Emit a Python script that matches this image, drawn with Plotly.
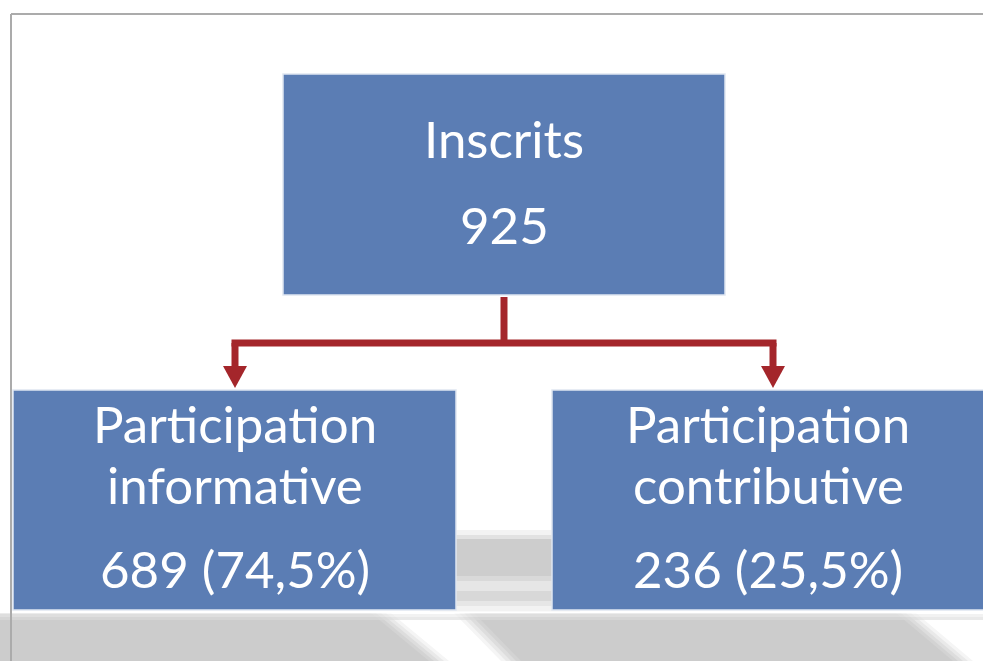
import plotly.graph_objects as go

# data
total_label = "Inscrits"
total_count = 925
group_labels = ["Participation<br>informative", "Participation<br>contributive"]
group_counts = [689, 236]
group_pcts = [74.5, 25.5]

W, H = 983, 661
BOX = "#5b7db4"
RED = "#a4262b"
FONT = "Lato"
FS = 51

fig = go.Figure()
shapes = []
annotations = []


def poly(pts, color):
    d = "M " + " L ".join(f"{x},{y}" for x, y in pts) + " Z"
    return dict(type="path", path=d, fillcolor=color, line=dict(width=0), layer="below")


# reflection of the top box, visible between the lower boxes
for y0, y1, c in [(530, 535, "#f3f3f3"), (535, 539, "#e2e2e2"), (539, 576, "#cdcdcd"),
                  (576, 581, "#d9d9d9"), (581, 591, "#e6e6e6"), (591, 601, "#d8d8d8"),
                  (601, 606, "#e6e6e6"), (606, 612, "#f2f2f2")]:
    shapes.append(dict(type="rect", x0=430, x1=580, y0=y0, y1=y1, fillcolor=c,
                       line=dict(width=0), layer="below"))

# reflections of the lower boxes, soft slanted edges
for off, c in [(16, "#f5f5f5"), (11, "#e9e9e9"), (6, "#dddddd"), (1, "#d3d3d3"), (-4, "#cccccc")]:
    shapes.append(poly([(0, 613), (375 + off, 613), (433 + off, 661), (0, 661)], c))
    shapes.append(poly([(470 - off, 613), (900 + off, 613), (957 + off, 661), (517 - off, 661)], c))
for y0, y1, c in [(611, 614, "#ffffff"), (614, 617, "#eaeaea"), (617, 620, "#dadada")]:
    shapes.append(dict(type="rect", x0=0, x1=W, y0=y0, y1=y1, fillcolor=c, opacity=0.6,
                       line=dict(width=0), layer="below"))

# frame lines
shapes.append(dict(type="line", x0=11, x1=W, y0=14, y1=14, line=dict(color="#ababab", width=2)))
shapes.append(dict(type="line", x0=11, x1=11, y0=14, y1=H, line=dict(color="#ababab", width=2)))

# boxes
boxes = [(283, 725, 74, 295), (13, 456, 390, 610), (552, 990, 390, 610)]
for x0, x1, y0, y1 in boxes:
    shapes.append(dict(type="rect", x0=x0, x1=x1, y0=y0, y1=y1, fillcolor=BOX,
                       line=dict(color="#dfe6f1", width=1.5)))

# connectors
cx, lx, rx, hy = 504, 235, 773, 343
shapes.append(dict(type="line", x0=cx, x1=cx, y0=297, y1=hy, line=dict(color=RED, width=7)))
shapes.append(dict(type="line", x0=lx - 3.5, x1=rx + 3.5, y0=hy, y1=hy, line=dict(color=RED, width=7)))
for ax in (lx, rx):
    shapes.append(dict(type="line", x0=ax, x1=ax, y0=hy, y1=368, line=dict(color=RED, width=7)))
    shapes.append(poly([(ax - 12, 366), (ax + 12, 366), (ax, 388)], RED) | {"layer": "above"})


def label(x, y, text):
    annotations.append(dict(x=x, y=y, xref="x", yref="y", text=text, showarrow=False,
                            xanchor="center", yanchor="middle",
                            font=dict(family=FONT, size=FS, color="white")))


label(504, 138, total_label)
label(504, 224, str(total_count))
centers = [235, 768]
for i, name in enumerate(group_labels):
    first, second = name.split("<br>")
    label(centers[i], 423, first)
    label(centers[i], 484, second)
    pct = f"{group_pcts[i]:.1f}".replace(".", ",")
    label(centers[i], 568, f"{group_counts[i]} ({pct}%)")

fig.update_layout(
    width=W, height=H, margin=dict(l=0, r=0, t=0, b=0),
    paper_bgcolor="white", plot_bgcolor="white",
    xaxis=dict(range=[0, W], visible=False, fixedrange=True),
    yaxis=dict(range=[H, 0], visible=False, fixedrange=True),
    shapes=shapes, annotations=annotations, showlegend=False,
)
fig.write_html("out.html", config={"displayModeBar": False},
               post_script="document.body.style.margin='0';document.body.style.overflow='hidden';")
